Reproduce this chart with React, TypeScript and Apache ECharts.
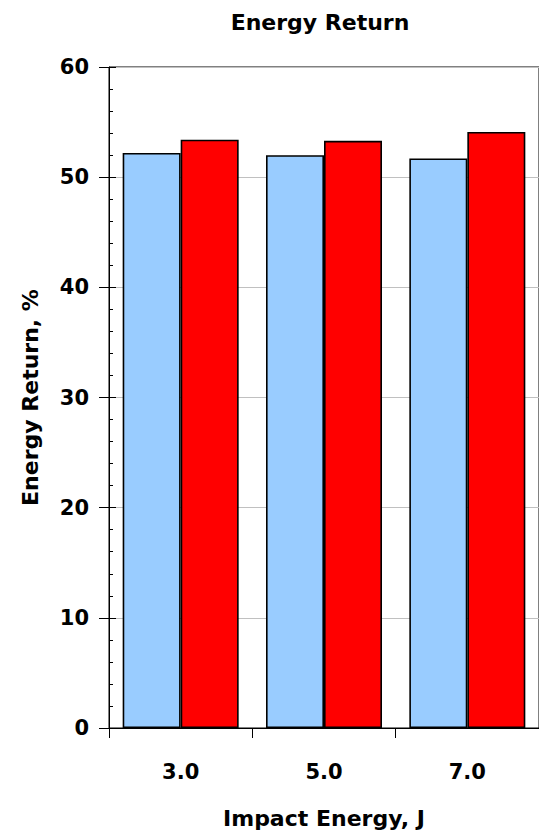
import React, { useEffect, useRef } from "react";
import * as echarts from "echarts";

const categories = ["3.0", "5.0", "7.0"];
const seriesBlue = [52.2, 52.0, 51.7];
const seriesRed = [53.4, 53.3, 54.1];
const yTicks = { min: 0, max: 60, interval: 10 };
const titleText = "Energy Return";
const xName = "Impact Energy, J";
const yName = "Energy Return, %";

const FONT = "DejaVu Sans";

export default function App() {
  const ref = useRef<HTMLDivElement>(null);
  useEffect(() => {
    if (!ref.current) return;
    const chart = echarts.init(ref.current, null, { renderer: "svg" });
    chart.setOption({
      animation: false,
      backgroundColor: "#ffffff",
      graphic: [
        {
          type: "text",
          x: 320,
          y: 11,
          style: {
            text: titleText,
            fontFamily: FONT,
            fontWeight: "bold",
            fontSize: 22,
            fill: "#000",
            textAlign: "center",
            textVerticalAlign: "top",
          },
        },
      ],
      grid: {
        left: 109,
        top: 67,
        width: 437,
        height: 661,
        show: true,
        borderColor: "#000",
        borderWidth: 1,
        backgroundColor: "transparent",
        containLabel: false,
      },
      xAxis: {
        type: "category",
        data: categories,
        boundaryGap: true,
        name: xName,
        nameLocation: "middle",
        nameGap: 79,
        nameTextStyle: { fontFamily: FONT, fontWeight: "bold", fontSize: 22, color: "#000" },
        axisLine: { show: true, lineStyle: { color: "#000", width: 1 } },
        axisTick: { show: true, length: 10, inside: false, lineStyle: { color: "#000" } },
        axisLabel: { margin: 33, fontFamily: FONT, fontWeight: "bold", fontSize: 21, color: "#000" },
        splitLine: { show: false },
      },
      yAxis: [
        {
          type: "value",
          min: yTicks.min,
          max: yTicks.max,
          interval: yTicks.interval,
          name: yName,
          nameLocation: "middle",
          nameGap: 68,
          nameTextStyle: { fontFamily: FONT, fontWeight: "bold", fontSize: 22, color: "#000" },
          axisLine: { show: true, lineStyle: { color: "#000", width: 1 } },
          axisTick: { show: true, length: 10, inside: false, lineStyle: { color: "#000" } },
          axisLabel: { margin: 20, fontFamily: FONT, fontWeight: "bold", fontSize: 21, color: "#000" },
          splitLine: { show: true, lineStyle: { color: "#c0c0c0", width: 1 } },
        },
        {
          type: "value",
          min: yTicks.min,
          max: yTicks.max,
          interval: yTicks.interval,
          position: "left",
          offset: 0,
          axisLine: { show: false },
          axisTick: { show: true, length: 7, inside: true, lineStyle: { color: "#000" } },
          minorTick: { show: true, splitNumber: 5, length: 4, lineStyle: { color: "#000" } },
          axisLabel: { show: false },
          splitLine: { show: false },
        },
      ],
      series: [
        {
          type: "bar",
          data: seriesBlue,
          barWidth: 58,
          barGap: "0%",
          itemStyle: { color: "#99ccff", borderColor: "#000", borderWidth: 1.6 },
        },
        {
          type: "bar",
          data: seriesRed,
          barWidth: 58,
          barGap: "0%",
          itemStyle: { color: "#ff0000", borderColor: "#000", borderWidth: 1.6 },
        },
      ],
    });
    return () => chart.dispose();
  }, []);
  return (
    <div
      ref={ref}
      style={{ position: "fixed", left: 0, top: 0, width: 539, height: 838 }}
    />
  );
}
